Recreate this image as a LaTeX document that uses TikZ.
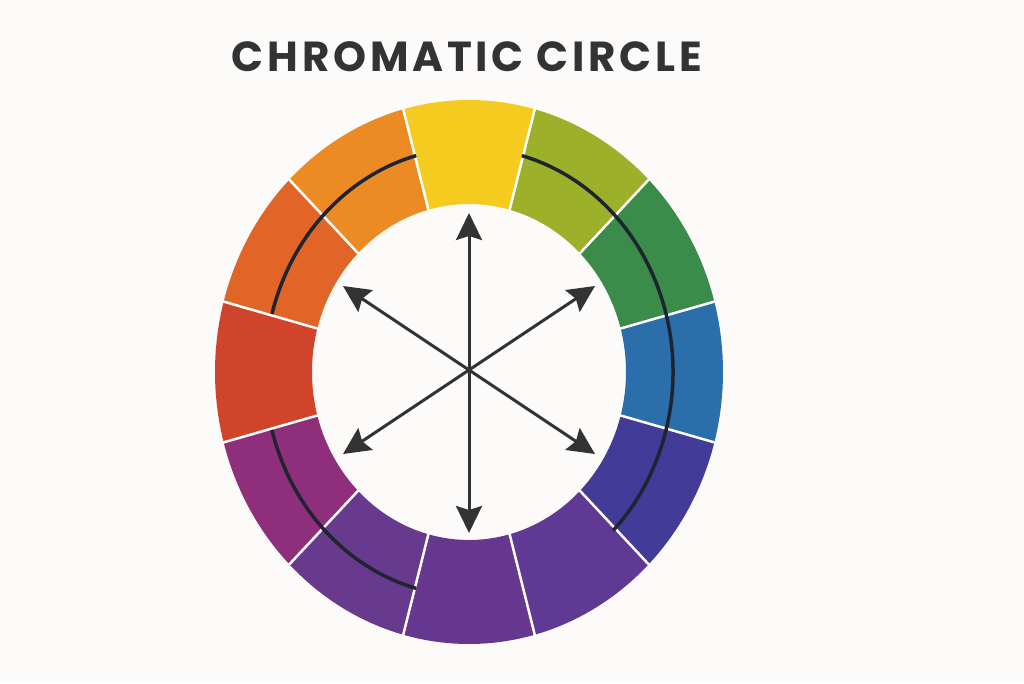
\documentclass[tikz,border=0pt]{standalone}
\usepackage{fontspec}
\newfontfamily\titlefont[LetterSpace=9]{Poppins}
\usetikzlibrary{arrows.meta}

\definecolor{paper}{HTML}{FCFBF9}
\definecolor{ink}{HTML}{333333}
\definecolor{arcink}{HTML}{1E2530}
\definecolor{cyellow}{HTML}{F6CB20}
\definecolor{cyelgreen}{HTML}{9CB02A}
\definecolor{cgreen}{HTML}{3B8B4A}
\definecolor{cblue}{HTML}{2B6EAC}
\definecolor{cblueviolet}{HTML}{433B98}
\definecolor{cvioletr}{HTML}{5F3993}
\definecolor{cpurple}{HTML}{66378F}
\definecolor{cvioletl}{HTML}{673A8D}
\definecolor{credviolet}{HTML}{8F2E7A}
\definecolor{cred}{HTML}{D0442B}
\definecolor{credorange}{HTML}{E06527}
\definecolor{corange}{HTML}{EC8B24}

\tikzset{
  arcline/.style={arcink, line width=3.5},
  dblarrow/.style={ink, line width=3, {Stealth[length=27pt,width=26pt,inset=4pt]}-{Stealth[length=27pt,width=26pt,inset=4pt]}}
}

\begin{document}
\begin{tikzpicture}[x=1pt,y=1pt]
  \fill[paper] (-469,-311) rectangle (555,372);
  \useasboundingbox (-469,-311) rectangle (555,372);

  \node[ink] (title) at (-2,315) {\titlefont\bfseries\fontsize{42}{42}\selectfont CHROMATIC CIRCLE};

  % colour ring
  \foreach \a/\c in {90/cyellow, 60/cyelgreen, 30/cgreen, 0/cblue, -30/cblueviolet, -60/cvioletr,
                     -90/cpurple, -120/cvioletl, -150/credviolet, 180/cred, 150/credorange, 120/corange} {
    \fill[\c] ({254*cos(\a+15)},{272*sin(\a+15)})
      arc[start angle=\a+15, end angle=\a-15, x radius=254, y radius=272]
      -- ({157*cos(\a-15)},{168*sin(\a-15)})
      arc[start angle=\a-15, end angle=\a+15, x radius=157, y radius=168] -- cycle;
  }
  \foreach \a in {15,45,...,345}
    \draw[white, line width=2.5] ({156*cos(\a)},{167*sin(\a)}) -- ({255*cos(\a)},{273*sin(\a)});

  % arcs through the ring
  \draw[arcline] ({204*cos(105)},{224*sin(105)}) arc[start angle=105, end angle=165, x radius=204, y radius=224];
  \draw[arcline] ({204*cos(75)},{224*sin(75)}) arc[start angle=75, end angle=-45, x radius=204, y radius=224];
  \draw[arcline] ({204*cos(195)},{224*sin(195)}) arc[start angle=195, end angle=255, x radius=204, y radius=224];

  % arrows
  \coordinate (c) at (0,2);
  \coordinate (n) at (0,159);
  \coordinate (s) at (0,-161);
  \coordinate (nw) at (-126,86);
  \coordinate (se) at (126,-82);
  \coordinate (ne) at (126,86);
  \coordinate (sw) at (-126,-82);
  \draw[dblarrow] (n) -- (s);
  \draw[dblarrow] (nw) -- (se);
  \draw[dblarrow] (ne) -- (sw);
\end{tikzpicture}
\end{document}
